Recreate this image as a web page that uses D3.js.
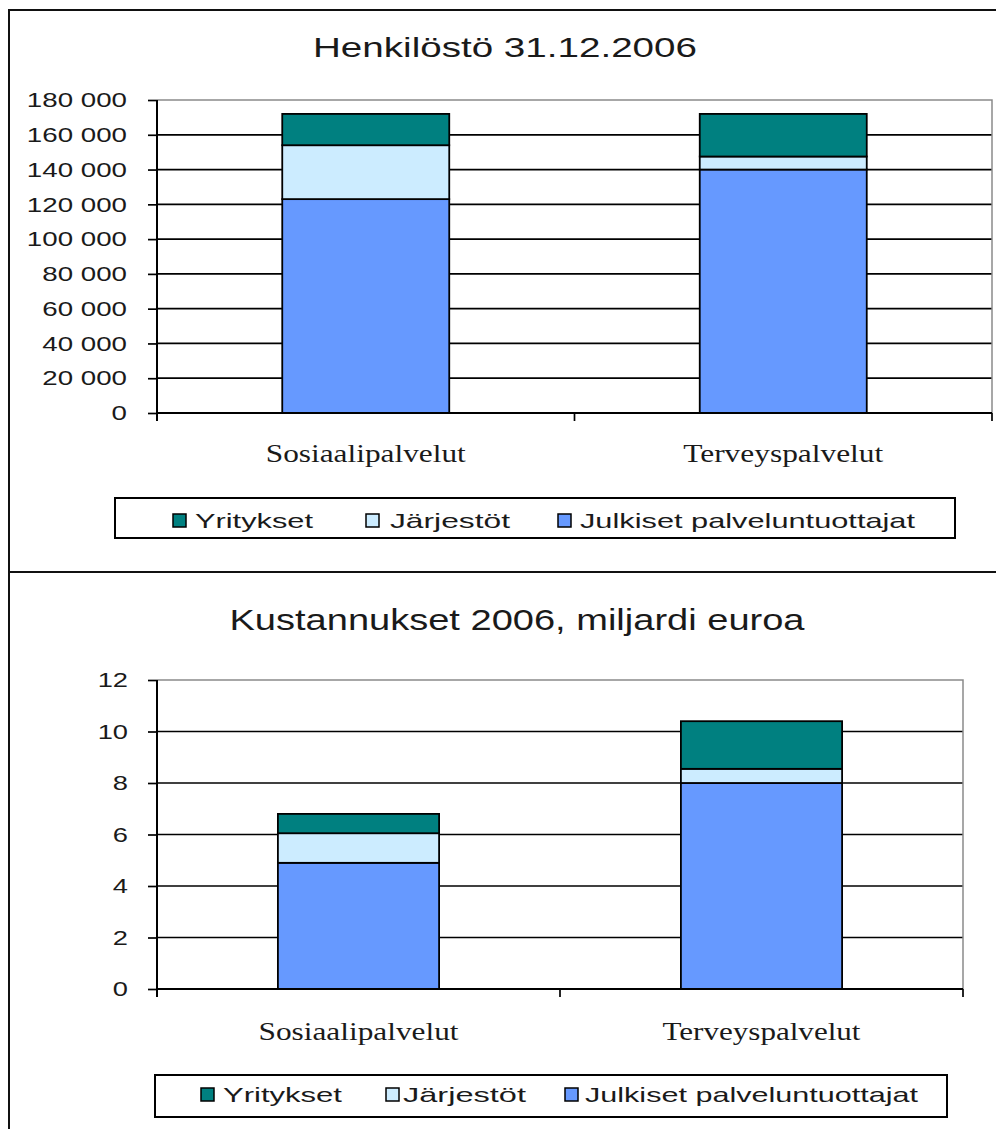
<!DOCTYPE html>
<html><head><meta charset="utf-8">
<script src="https://cdn.jsdelivr.net/npm/d3@7"></script>
<style>body{margin:0;background:#fff}svg{display:block}</style>
</head><body><svg id="c" width="996" height="1129"></svg>
<script>
// ---------- DATA ----------
const categories = ["Sosiaalipalvelut", "Terveyspalvelut"];
const seriesNames = ["Yritykset", "Järjestöt", "Julkiset palveluntuottajat"];
const seriesColors = ["#008080", "#CCECFF", "#6699FF"];

// Henkilöstö 31.12.2006
const staffTitle = "Henkilöstö 31.12.2006";
const staffJulkiset = [123000, 140000];
const staffJarjestot = [31000, 7500];
const staffYritykset = [18000, 24500];
const staffTicks = [0, 20000, 40000, 60000, 80000, 100000, 120000, 140000, 160000, 180000];

// Kustannukset 2006, miljardi euroa
const costTitle = "Kustannukset 2006, miljardi euroa";
const costJulkiset = [4.9, 8.0];
const costJarjestot = [1.15, 0.55];
const costYritykset = [0.75, 1.85];
const costTicks = [0, 2, 4, 6, 8, 10, 12];

// ---------- DRAW ----------
const svg = d3.select("#c");
const SANS = "'Liberation Sans', Arial, sans-serif";
const SERIF = "'Liberation Serif', 'Times New Roman', serif";
const fmt = d3.formatLocale({decimal: ",", thousands: "\u00a0", grouping: [3], currency: ["", "€"]}).format(",d");

// outer frame
svg.append("path").attr("d", "M9,1129V10H996").attr("fill", "none").attr("stroke", "#111").attr("stroke-width", 2);
svg.append("line").attr("x1", 9).attr("x2", 996).attr("y1", 572).attr("y2", 572).attr("stroke", "#111").attr("stroke-width", 2);

function drawChart(cfg) {
  const g = svg.append("g");
  const rows = categories.map((c, i) => ({
    cat: c,
    "Julkiset palveluntuottajat": cfg.julkiset[i],
    "Järjestöt": cfg.jarjestot[i],
    "Yritykset": cfg.yritykset[i]
  }));
  const keys = ["Julkiset palveluntuottajat", "Järjestöt", "Yritykset"];
  const color = d3.scaleOrdinal().domain(seriesNames).range(seriesColors);
  const stacked = d3.stack().keys(keys)(rows);

  const p = cfg.plot;
  const y = d3.scaleLinear().domain([0, d3.max(cfg.ticks)]).range([p.b, p.t]);
  const xCat = d3.scaleBand().domain(categories).range([p.l, p.r]).padding(0);
  const x = d3.scaleBand().domain(categories).range([p.l, p.r]).paddingInner(0.6).paddingOuter(0.3);

  // gridlines
  g.append("g").selectAll("line").data(cfg.ticks.filter(t => t > 0 && t < d3.max(cfg.ticks))).join("line")
    .attr("x1", p.l).attr("x2", p.r).attr("y1", d => y(d)).attr("y2", d => y(d))
    .attr("stroke", "#000").attr("stroke-width", 1.7);
  // plot border (top, right)
  g.append("path").attr("d", `M${p.l},${y(d3.max(cfg.ticks))}H${p.r}V${y(0)}`)
    .attr("fill", "none").attr("stroke", "#8a8a8a").attr("stroke-width", 1.5);

  // bars
  g.append("g").selectAll("g").data(stacked).join("g")
    .attr("fill", d => color(d.key))
    .selectAll("rect").data(d => d).join("rect")
    .attr("x", d => x(d.data.cat))
    .attr("width", x.bandwidth())
    .attr("y", d => y(d[1]))
    .attr("height", d => y(d[0]) - y(d[1]))
    .attr("stroke", "#000").attr("stroke-width", 1.8);

  // y axis
  const ya = g.append("g").attr("transform", `translate(${p.l},0)`)
    .call(d3.axisLeft(y).tickValues(cfg.ticks).tickSize(9).tickSizeOuter(0).tickFormat(fmt));
  ya.select(".domain").remove();
  ya.selectAll(".tick line").attr("stroke", "#000").attr("stroke-width", 1.7);
  ya.selectAll(".tick text").attr("x", null).attr("text-anchor", "end")
    .attr("transform", `translate(${cfg.yTick.right - p.l},0) scale(${cfg.yTick.sx},1)`)
    .attr("font-family", SANS).attr("font-size", cfg.yTick.size).attr("fill", "#1a1a1a");
  g.append("line").attr("x1", p.l).attr("x2", p.l).attr("y1", p.t).attr("y2", y(0) + 8)
    .attr("stroke", "#000").attr("stroke-width", 2);

  // x axis
  g.append("line").attr("x1", p.l).attr("x2", p.r).attr("y1", y(0)).attr("y2", y(0))
    .attr("stroke", "#000").attr("stroke-width", 2);
  const edges = categories.map(c => xCat(c)).concat([p.r]);
  g.append("g").selectAll("line").data(edges).join("line")
    .attr("x1", d => d).attr("x2", d => d).attr("y1", y(0)).attr("y2", y(0) + 8)
    .attr("stroke", "#000").attr("stroke-width", 1.7);
  g.append("g").selectAll("text").data(categories).join("text")
    .attr("x", (d, i) => xCat(d) + xCat.bandwidth() / 2 - cfg.xLabel.w[i] / 2)
    .attr("y", cfg.xLabel.y)
    .attr("textLength", (d, i) => cfg.xLabel.w[i]).attr("lengthAdjust", "spacingAndGlyphs")
    .attr("font-family", SERIF).attr("font-size", cfg.xLabel.size).attr("fill", "#1a1a1a")
    .text(d => d);

  // title
  g.append("text").attr("x", cfg.title.cx - cfg.title.w / 2).attr("y", cfg.title.y)
    .attr("textLength", cfg.title.w).attr("lengthAdjust", "spacingAndGlyphs")
    .attr("font-family", SANS).attr("font-size", cfg.title.size).attr("fill", "#1a1a1a")
    .text(cfg.title.text);

  // legend
  const L = cfg.legend;
  g.append("rect").attr("x", L.box[0]).attr("y", L.box[1]).attr("width", L.box[2] - L.box[0]).attr("height", L.box[3] - L.box[1])
    .attr("fill", "#fff").attr("stroke", "#000").attr("stroke-width", 2);
  const li = g.append("g").selectAll("g").data(seriesNames).join("g");
  li.append("rect").attr("x", (d, i) => L.markerX[i]).attr("y", L.markerY).attr("width", 13).attr("height", 13)
    .attr("fill", d => color(d)).attr("stroke", "#000").attr("stroke-width", 1.5);
  li.append("text").attr("x", (d, i) => L.textX[i]).attr("y", L.baseline)
    .attr("textLength", (d, i) => L.textW[i]).attr("lengthAdjust", "spacingAndGlyphs")
    .attr("font-family", SANS).attr("font-size", L.size).attr("fill", "#1a1a1a")
    .text(d => d);
}

drawChart({
  julkiset: staffJulkiset, jarjestot: staffJarjestot, yritykset: staffYritykset, ticks: staffTicks,
  plot: {l: 157, r: 992, t: 100, b: 413},
  title: {text: staffTitle, cx: 505, y: 57, size: 28, w: 384},
  yTick: {size: 21, sx: 1.32, right: 127},
  xLabel: {y: 462, size: 25, w: [200, 200]},
  legend: {box: [115, 498, 955, 538], markerX: [173, 366, 558], markerY: 514, textX: [195, 390, 580], textW: [118, 120, 335], baseline: 528, size: 21}
});

drawChart({
  julkiset: costJulkiset, jarjestot: costJarjestot, yritykset: costYritykset, ticks: costTicks,
  plot: {l: 157, r: 963, t: 680, b: 989},
  title: {text: costTitle, cx: 517, y: 630, size: 30, w: 575},
  yTick: {size: 21, sx: 1.3, right: 128},
  xLabel: {y: 1040, size: 25, w: [200, 198]},
  legend: {box: [155, 1075, 947, 1117], markerX: [201, 386, 565], markerY: 1088, textX: [223, 403, 585], textW: [119, 123, 333], baseline: 1102, size: 21}
});
</script></body></html>
